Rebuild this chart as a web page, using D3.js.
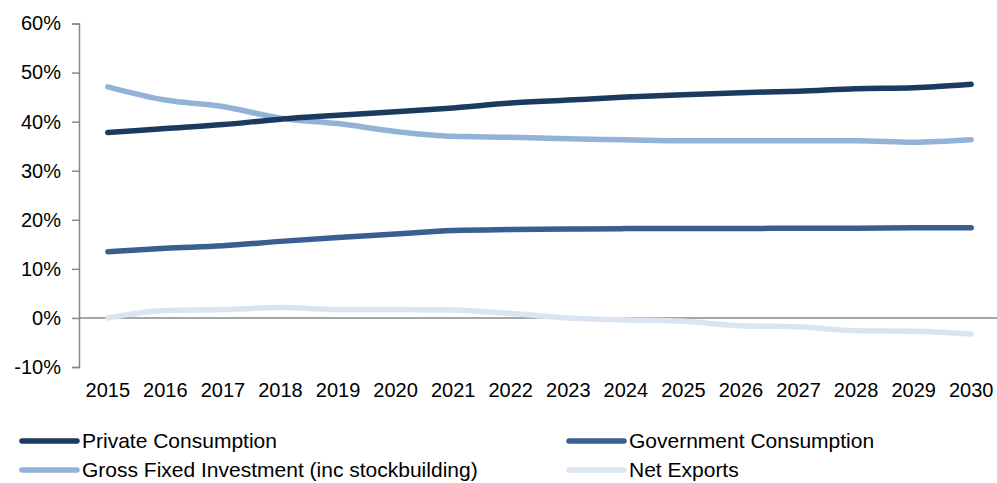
<!DOCTYPE html>
<html>
<head>
<meta charset="utf-8">
<script src="https://cdn.jsdelivr.net/npm/d3@7"></script>
<style>
  html, body { margin: 0; padding: 0; background: #fff; }
  svg { display: block; font-family: "Liberation Sans", Arial, sans-serif; }
</style>
</head>
<body>
<svg id="chart" width="997" height="483"></svg>
<script>
// Share of GDP by expenditure component, 2015–2030
const years = ["2015","2016","2017","2018","2019","2020","2021","2022","2023","2024","2025","2026","2027","2028","2029","2030"];
const privateConsumption = [37.8, 38.6, 39.4, 40.5, 41.3, 42.0, 42.8, 43.8, 44.4, 45.0, 45.5, 45.9, 46.2, 46.7, 46.9, 47.6];
const governmentConsumption = [13.5, 14.2, 14.7, 15.6, 16.4, 17.1, 17.8, 18.0, 18.1, 18.2, 18.2, 18.2, 18.3, 18.3, 18.4, 18.4];
const grossFixedInvestment = [47.1, 44.4, 43.1, 40.7, 39.6, 38.0, 37.0, 36.8, 36.5, 36.3, 36.1, 36.1, 36.1, 36.1, 35.8, 36.3];
const netExports = [0.0, 1.5, 1.7, 2.1, 1.7, 1.7, 1.6, 0.9, 0.0, -0.4, -0.7, -1.6, -1.8, -2.6, -2.7, -3.3];
const yTicks = [-10, 0, 10, 20, 30, 40, 50, 60];

const series = [
  { name: "Private Consumption", values: privateConsumption, color: "#1a3a60" },
  { name: "Government Consumption", values: governmentConsumption, color: "#375f92" },
  { name: "Gross Fixed Investment (inc stockbuilding)", values: grossFixedInvestment, color: "#93b2d8" },
  { name: "Net Exports", values: netExports, color: "#dbe5f1" }
];

const svg = d3.select("#chart");
const plotLeft = 79, plotRight = 1000, plotTop = 23.5, plotBottom = 367;

const x = d3.scaleBand().domain(years).range([plotLeft, plotRight]).padding(0);
const y = d3.scaleLinear().domain([-10, 60]).range([plotBottom, plotTop]);

// Y axis with outward ticks
const yAxis = svg.append("g")
  .attr("transform", `translate(${plotLeft},0)`)
  .call(d3.axisLeft(y).tickValues(yTicks).tickSize(7).tickPadding(11).tickFormat(d => d + "%"));
yAxis.select(".domain").attr("stroke", "#888").attr("stroke-width", 1.5);
yAxis.selectAll(".tick line").attr("stroke", "#888").attr("stroke-width", 1.5);
yAxis.selectAll(".tick text")
  .attr("font-size", 20).attr("fill", "#000")
  .attr("font-family", "Liberation Sans, Arial, sans-serif");

// Zero baseline
svg.append("line")
  .attr("x1", plotLeft).attr("x2", plotRight)
  .attr("y1", y(0)).attr("y2", y(0))
  .attr("stroke", "#888").attr("stroke-width", 1.5);

// Year labels along the bottom
const xAxis = svg.append("g")
  .attr("transform", `translate(0,${plotBottom})`)
  .call(d3.axisBottom(x).tickSize(0).tickPadding(16));
xAxis.select(".domain").remove();
xAxis.selectAll(".tick text")
  .attr("font-size", 20).attr("fill", "#000")
  .attr("font-family", "Liberation Sans, Arial, sans-serif");

// Series lines
const line = d3.line()
  .x((d, i) => x(years[i]) + x.bandwidth() / 2)
  .y(d => y(d))
  .curve(d3.curveMonotoneX);

// Draw in reverse so the darker series sit on top
[...series].reverse().forEach(s => {
  svg.append("path")
    .datum(s.values)
    .attr("d", line)
    .attr("fill", "none")
    .attr("stroke", s.color)
    .attr("stroke-width", 5.5)
    .attr("stroke-linecap", "round")
    .attr("stroke-linejoin", "round");
});

// Legend: two columns, two rows
const legendPos = [
  { x: 22, y: 441 }, { x: 569, y: 441 },
  { x: 22, y: 470 }, { x: 569, y: 470 }
];
series.forEach((s, i) => {
  const p = legendPos[i];
  const g = svg.append("g").attr("transform", `translate(${p.x},${p.y})`);
  g.append("line")
    .attr("x1", 0).attr("x2", 55)
    .attr("y1", 0).attr("y2", 0)
    .attr("stroke", s.color).attr("stroke-width", 5.5)
    .attr("stroke-linecap", "round");
  g.append("text")
    .attr("x", 60).attr("y", 0).attr("dy", "0.35em")
    .attr("font-size", 21).attr("fill", "#000")
    .text(s.name);
});
</script>
</body>
</html>
